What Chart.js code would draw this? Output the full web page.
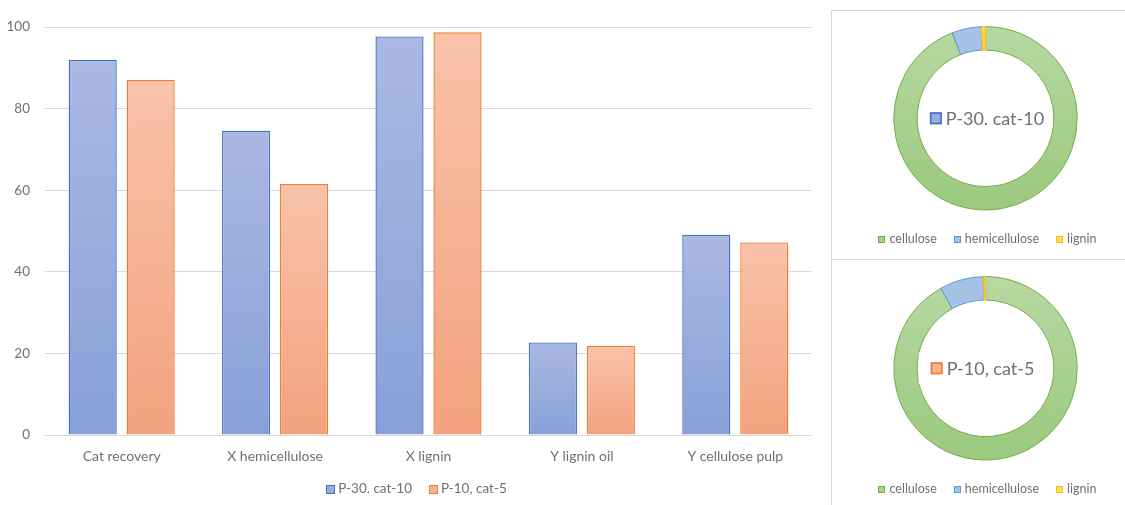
<!DOCTYPE html>
<html>
<head>
<meta charset="utf-8">
<script src="https://cdn.jsdelivr.net/npm/chart.js@4.4.1/dist/chart.umd.min.js"></script>
<style>
  html, body { margin: 0; padding: 0; background: #fff; width: 1125px; height: 505px; overflow: hidden; }
  #bar { position: absolute; left: 0; top: 0; }
  .panel { position: absolute; box-sizing: border-box; border: 1px solid #d9d9d9; background: #fff; }
  #panelA { left: 831px; top: 10px; width: 310px; height: 250px; }
  #panelB { left: 831px; top: 259px; width: 310px; height: 260px; }
  #donutA { position: absolute; left: 832px; top: 11px; }
  #donutB { position: absolute; left: 832px; top: 260px; }
</style>
</head>
<body>
<canvas id="bar" width="826" height="505"></canvas>
<div class="panel" id="panelA"></div>
<div class="panel" id="panelB"></div>
<canvas id="donutA" width="293" height="247"></canvas>
<canvas id="donutB" width="293" height="245"></canvas>
<script>
// ---- data ----
const categories = ['Cat recovery', 'X hemicellulose', 'X lignin', 'Y lignin oil', 'Y cellulose pulp'];
const seriesNames = ['P-30. cat-10', 'P-10, cat-5'];
const p30Values = [92.0, 74.6, 97.7, 22.7, 49.1];
const p10Values = [87.0, 61.5, 98.7, 21.9, 47.2];
const yTicks = [0, 20, 40, 60, 80, 100];
const components = ['cellulose', 'hemicellulose', 'lignin'];
const p30Composition = [94.1, 5.2, 0.7];
const p10Composition = [91.9, 7.8, 0.3];

// ---- styling ----
const FONT = 'Lato';
const TEXT = '#707070';
const BLUE = { top: '#aab9e2', bottom: '#889fd8', border: '#4472c4', key: '#98acdd' };
const ORANGE = { top: '#f8c2aa', bottom: '#f4a27e', border: '#ed7d31', key: '#f5b393' };
const SLICE_BORDER = ['#70ad47', '#5b9bd5', '#ffc000'];
const SLICE_KEY = ['#a9d18e', '#a6c1e6', '#ffd966'];

Chart.defaults.font.family = FONT;
Chart.defaults.color = TEXT;

// vertical gradient running from the top of each bar down to the baseline
function barFill(c) {
  return (ctx) => {
    const chart = ctx.chart;
    if (!chart.chartArea || ctx.type !== 'data') return c.key;
    const y = chart.scales.y;
    const top = y.getPixelForValue(ctx.parsed.y);
    const base = y.getPixelForValue(0);
    const g = chart.ctx.createLinearGradient(0, top, 0, base);
    g.addColorStop(0, c.top);
    g.addColorStop(1, c.bottom);
    return g;
  };
}

function sliceFill(ctx) {
  const chart = ctx.chart;
  const area = chart.chartArea;
  if (!area || ctx.type !== 'data') return SLICE_KEY[ctx.dataIndex || 0];
  if (ctx.dataIndex === 0) {
    const g = chart.ctx.createLinearGradient(0, area.top, 0, area.bottom);
    g.addColorStop(0, '#b7d8a2');
    g.addColorStop(1, '#9bc97e');
    return g;
  }
  return ctx.dataIndex === 1 ? '#a6c1e6' : '#ffd24d';
}

// legend row with small square keys, centred under the plot
const boxLegend = {
  id: 'boxLegend',
  afterDraw(chart, args, o) {
    const ctx = chart.ctx;
    let items;
    if (chart.config.type === 'doughnut') {
      const ds = chart.data.datasets[0];
      items = chart.data.labels.map((t, i) => ({ text: t, fill: SLICE_KEY[i], stroke: ds.borderColor[i] }));
    } else {
      items = chart.data.datasets.map(ds => ({ text: ds.label, fill: ds.keyFill, stroke: ds.borderColor }));
    }
    ctx.save();
    ctx.font = o.fontSize + 'px ' + FONT;
    const widths = items.map(it => ctx.measureText(it.text).width);
    const total = widths.reduce((a, w) => a + o.box + o.gap + w, 0) + o.itemGap * (items.length - 1);
    const area = chart.chartArea;
    let x = (area.left + area.right) / 2 + o.dx - total / 2;
    const y = area.bottom + o.dy;
    items.forEach((it, i) => {
      const bx = Math.round(x), by = Math.round(y - o.box / 2);
      ctx.fillStyle = it.fill;
      ctx.fillRect(bx, by, o.box, o.box);
      ctx.strokeStyle = it.stroke;
      ctx.lineWidth = 1;
      ctx.strokeRect(bx + 0.5, by + 0.5, o.box - 1, o.box - 1);
      x += o.box + o.gap;
      ctx.fillStyle = TEXT;
      ctx.textAlign = 'left';
      ctx.textBaseline = 'middle';
      ctx.fillText(it.text, x, y);
      x += widths[i] + o.itemGap;
    });
    ctx.restore();
  }
};

// series name with its key, placed in the hole of the ring
const centerTag = {
  id: 'centerTag',
  afterDatasetsDraw(chart, args, o) {
    const arc = chart.getDatasetMeta(0).data[0];
    if (!arc) return;
    const ds = chart.data.datasets[0];
    const ctx = chart.ctx;
    ctx.save();
    ctx.font = o.fontSize + 'px ' + FONT;
    const tw = ctx.measureText(ds.label).width;
    const total = o.box + o.gap + tw;
    const x = arc.x + o.dx - total / 2;
    const y = arc.y;
    if (o.backdrop) {
      ctx.fillStyle = '#ffffff';
      ctx.fillRect(x - o.padX, y - o.padY, total + 2 * o.padX, 2 * o.padY);
    }
    ctx.fillStyle = ds.tagFill;
    ctx.fillRect(x, y - o.box / 2, o.box, o.box);
    ctx.strokeStyle = ds.tagBorder;
    ctx.lineWidth = 1.6;
    ctx.strokeRect(x + 0.8, y - o.box / 2 + 0.8, o.box - 1.6, o.box - 1.6);
    ctx.fillStyle = TEXT;
    ctx.textAlign = 'left';
    ctx.textBaseline = 'middle';
    ctx.fillText(ds.label, x + o.box + o.gap, y + 1);
    ctx.restore();
  }
};

function draw() {
  new Chart(document.getElementById('bar'), {
    type: 'bar',
    data: {
      labels: categories,
      datasets: [
        { label: seriesNames[0], data: p30Values, backgroundColor: barFill(BLUE), borderColor: BLUE.border, borderWidth: 1.4, keyFill: BLUE.key },
        { label: seriesNames[1], data: p10Values, backgroundColor: barFill(ORANGE), borderColor: ORANGE.border, borderWidth: 1.4, keyFill: ORANGE.key }
      ]
    },
    options: {
      responsive: false,
      animation: false,
      categoryPercentage: 0.756,
      barPercentage: 0.83,
      layout: { padding: { top: 27, right: 14, bottom: 34, left: 0 } },
      plugins: {
        legend: { display: false },
        tooltip: { enabled: false },
        boxLegend: { fontSize: 13.5, box: 9, gap: 3, itemGap: 17, dx: -12, dy: 54 }
      },
      scales: {
        x: {
          grid: { display: false, drawTicks: false },
          border: { display: false },
          ticks: { font: { size: 14 }, color: TEXT, padding: 13 },
          afterFit: s => { s.height = 36; }
        },
        y: {
          min: 0, max: 100,
          grid: { color: '#d9d9d9', lineWidth: 1, drawTicks: false },
          border: { display: false },
          ticks: { stepSize: 20, font: { size: 13.5 }, color: TEXT, padding: 15 },
          afterBuildTicks: s => { s.ticks = yTicks.map(v => ({ value: v })); },
          afterFit: s => { s.width = 45; }
        }
      }
    },
    plugins: [boxLegend]
  });

  const donut = (id, series, values, tag, pad, tagOpts) => new Chart(document.getElementById(id), {
    type: 'doughnut',
    data: {
      labels: components,
      datasets: [{
        label: series,
        data: values,
        backgroundColor: sliceFill,
        borderColor: SLICE_BORDER,
        borderWidth: 1,
        hoverOffset: 0,
        tagFill: tag.key,
        tagBorder: tag.border
      }]
    },
    options: {
      responsive: false,
      animation: false,
      cutout: '74.5%',
      layout: { padding: pad },
      plugins: {
        legend: { display: false },
        tooltip: { enabled: false },
        boxLegend: { fontSize: 12.5, box: 7, gap: 4, itemGap: 17, dx: 2, dy: 28.5 },
        centerTag: Object.assign({ fontSize: 18, box: 12, gap: 4, padX: 12, padY: 16 }, tagOpts)
      }
    },
    plugins: [boxLegend, centerTag]
  });

  donut('donutA', seriesNames[0], p30Composition, BLUE, { top: 15.1, bottom: 47.5, left: 20, right: 6 }, { dx: 1.5, backdrop: false });
  donut('donutB', seriesNames[1], p10Composition, ORANGE, { top: 16.1, bottom: 44.5, left: 20, right: 6 }, { dx: -3, backdrop: true });
}

if (document.fonts && document.fonts.load) {
  Promise.all([document.fonts.load('13px Lato'), document.fonts.load('18px Lato')]).then(draw, draw);
} else {
  draw();
}
</script>
</body>
</html>
